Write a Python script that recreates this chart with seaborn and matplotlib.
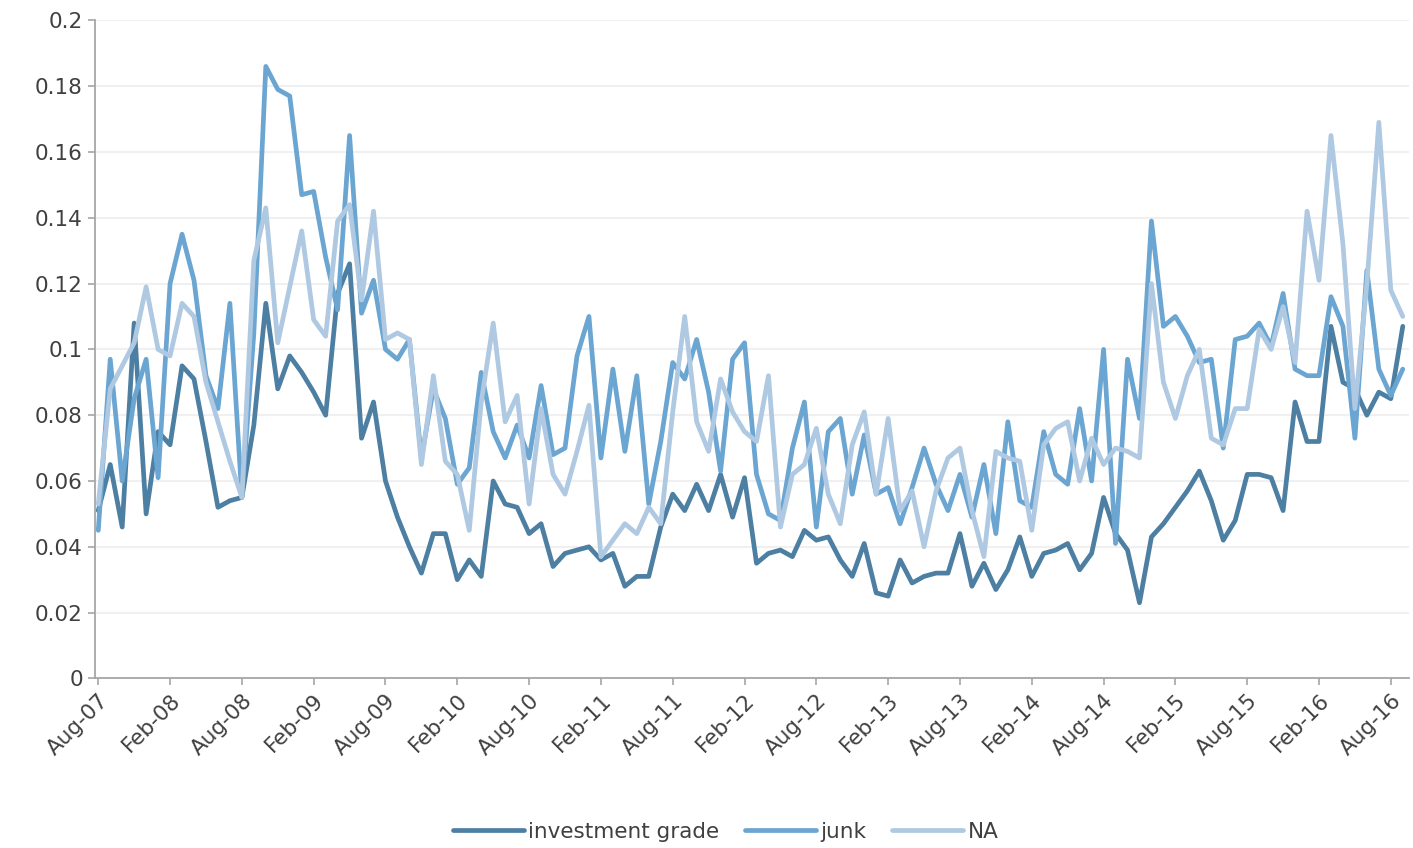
import numpy as np
import pandas as pd
import matplotlib
matplotlib.use("Agg")
import matplotlib.pyplot as plt
from matplotlib.ticker import FuncFormatter
import seaborn as sns

# ---------------- data (monthly, Aug-07 .. Sep-16) ----------------
investment_grade = [0.051, 0.065, 0.046, 0.108, 0.050, 0.075, 0.071, 0.095, 0.091, 0.072,
                    0.052, 0.054, 0.055, 0.077, 0.114, 0.088, 0.098, 0.093, 0.087, 0.080,
                    0.117, 0.126, 0.073, 0.084, 0.060, 0.049, 0.040, 0.032, 0.044, 0.044,
                    0.030, 0.036, 0.031, 0.060, 0.053, 0.052, 0.044, 0.047, 0.034, 0.038,
                    0.039, 0.040, 0.036, 0.038, 0.028, 0.031, 0.031, 0.046, 0.056, 0.051,
                    0.059, 0.051, 0.062, 0.049, 0.061, 0.035, 0.038, 0.039, 0.037, 0.045,
                    0.042, 0.043, 0.036, 0.031, 0.041, 0.026, 0.025, 0.036, 0.029, 0.031,
                    0.032, 0.032, 0.044, 0.028, 0.035, 0.027, 0.033, 0.043, 0.031, 0.038,
                    0.039, 0.041, 0.033, 0.038, 0.055, 0.044, 0.039, 0.023, 0.043, 0.047,
                    0.052, 0.057, 0.063, 0.054, 0.042, 0.048, 0.062, 0.062, 0.061, 0.051,
                    0.084, 0.072, 0.072, 0.107, 0.090, 0.088, 0.080, 0.087, 0.085, 0.107]

junk = [0.045, 0.097, 0.060, 0.085, 0.097, 0.061, 0.120, 0.135, 0.121, 0.092,
        0.082, 0.114, 0.055, 0.105, 0.186, 0.179, 0.177, 0.147, 0.148, 0.128,
        0.112, 0.165, 0.111, 0.121, 0.100, 0.097, 0.103, 0.067, 0.088, 0.079,
        0.059, 0.064, 0.093, 0.075, 0.067, 0.077, 0.067, 0.089, 0.068, 0.070,
        0.098, 0.110, 0.067, 0.094, 0.069, 0.092, 0.053, 0.072, 0.096, 0.091,
        0.103, 0.087, 0.063, 0.097, 0.102, 0.062, 0.050, 0.048, 0.070, 0.084,
        0.046, 0.075, 0.079, 0.056, 0.074, 0.056, 0.058, 0.047, 0.058, 0.070,
        0.059, 0.051, 0.062, 0.049, 0.065, 0.044, 0.078, 0.054, 0.052, 0.075,
        0.062, 0.059, 0.082, 0.060, 0.100, 0.041, 0.097, 0.079, 0.139, 0.107,
        0.110, 0.104, 0.096, 0.097, 0.070, 0.103, 0.104, 0.108, 0.101, 0.117,
        0.094, 0.092, 0.092, 0.116, 0.107, 0.073, 0.124, 0.094, 0.086, 0.094]

na = [0.053, 0.088, 0.095, 0.102, 0.119, 0.100, 0.098, 0.114, 0.110, 0.090,
      0.078, 0.066, 0.055, 0.127, 0.143, 0.102, 0.119, 0.136, 0.109, 0.104,
      0.139, 0.144, 0.115, 0.142, 0.103, 0.105, 0.103, 0.065, 0.092, 0.066,
      0.062, 0.045, 0.084, 0.108, 0.078, 0.086, 0.053, 0.082, 0.062, 0.056,
      0.069, 0.083, 0.037, 0.042, 0.047, 0.044, 0.052, 0.047, 0.081, 0.110,
      0.078, 0.069, 0.091, 0.081, 0.075, 0.072, 0.092, 0.046, 0.062, 0.065,
      0.076, 0.056, 0.047, 0.071, 0.081, 0.056, 0.079, 0.051, 0.057, 0.040,
      0.057, 0.067, 0.070, 0.051, 0.037, 0.069, 0.067, 0.066, 0.045, 0.071,
      0.076, 0.078, 0.060, 0.073, 0.065, 0.070, 0.069, 0.067, 0.120, 0.090,
      0.079, 0.092, 0.100, 0.073, 0.071, 0.082, 0.082, 0.106, 0.100, 0.113,
      0.096, 0.142, 0.121, 0.165, 0.132, 0.082, 0.120, 0.169, 0.118, 0.110]

tick_labels = ["Aug-07", "Feb-08", "Aug-08", "Feb-09", "Aug-09", "Feb-10", "Aug-10",
               "Feb-11", "Aug-11", "Feb-12", "Aug-12", "Feb-13", "Aug-13", "Feb-14",
               "Aug-14", "Feb-15", "Aug-15", "Feb-16", "Aug-16"]

series_names = ["investment grade", "junk", "NA"]
colors = ["#4D7FA3", "#6BA5D1", "#AEC9E1"]

# ---------------- build long frame ----------------
wide = pd.DataFrame({"month": np.arange(len(investment_grade)),
                     "investment grade": investment_grade,
                     "junk": junk,
                     "NA": na})
df = wide.melt(id_vars="month", var_name="series", value_name="value")

# ---------------- plot ----------------
sns.set_style("white")
plt.rcParams["font.family"] = ["DejaVu Sans"]
text_color = "#404040"

fig, ax = plt.subplots(figsize=(14.13, 8.48), dpi=100)
fig.subplots_adjust(left=0.067, right=0.997, bottom=0.2, top=0.976)

sns.lineplot(data=df, x="month", y="value", hue="series", hue_order=series_names,
             palette=colors, linewidth=3.4, ax=ax)

ax.set_ylim(0, 0.2)
ax.set_yticks(np.arange(0, 0.2001, 0.02))
ax.yaxis.set_major_formatter(FuncFormatter(lambda v, p: f"{v:g}" if v else "0"))
ax.set_xlim(-0.3, 109.5)
ax.set_xticks(np.arange(0, 6 * len(tick_labels), 6))
ax.set_xticklabels(tick_labels, rotation=45, ha="right", rotation_mode="anchor")
ax.set_xlabel("")
ax.set_ylabel("")

ax.grid(axis="y", color="#f0f0f0", linewidth=1.5)
ax.set_axisbelow(True)
for s in ["top", "right"]:
    ax.spines[s].set_visible(False)
for s in ["left", "bottom"]:
    ax.spines[s].set_color("#a6a6a6")
    ax.spines[s].set_linewidth(1.3)
ax.tick_params(axis="both", labelsize=15.5, colors=text_color, length=5, width=1.2,
               color="#a6a6a6", direction="out", left=True, bottom=True)

sns.move_legend(ax, "center", bbox_to_anchor=(0.48, -0.233), ncol=3, frameon=False,
                title=None, fontsize=15.5, handlelength=3.3, handletextpad=0.2,
                columnspacing=1.2)
for t in ax.get_legend().get_texts():
    t.set_color(text_color)

fig.savefig("out.png", dpi=100)
